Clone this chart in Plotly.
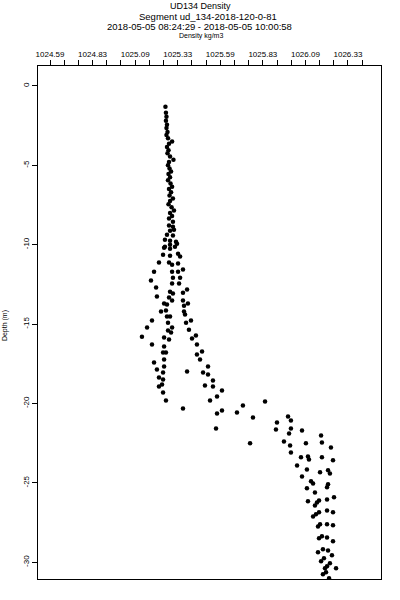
import plotly.graph_objects as go

# ---- data (density kg/m3, depth m) ----
density = [
    1025.258, 1025.261, 1025.264, 1025.261, 1025.267, 1025.264, 1025.270, 1025.264, 1025.273, 1025.297,
    1025.279, 1025.267, 1025.276, 1025.270, 1025.285, 1025.305, 1025.279, 1025.273, 1025.282, 1025.291,
    1025.276, 1025.285, 1025.273, 1025.288, 1025.297, 1025.279, 1025.291, 1025.282, 1025.302, 1025.285,
    1025.276, 1025.294, 1025.308, 1025.285, 1025.297, 1025.279, 1025.302,
    1025.279, 1025.302, 1025.285, 1025.308, 1025.267, 1025.302, 1025.255, 1025.285, 1025.320, 1025.285,
    1025.326, 1025.314, 1025.255, 1025.250, 1025.285, 1025.244, 1025.285, 1025.332, 1025.344, 1025.220,
    1025.279, 1025.297, 1025.332, 1025.191, 1025.297, 1025.332, 1025.361, 1025.302, 1025.344, 1025.173,
    1025.297, 1025.338, 1025.203, 1025.285, 1025.302, 1025.361, 1025.385, 1025.208, 1025.279, 1025.297,
    1025.361, 1025.250, 1025.267, 1025.367, 1025.390, 1025.232, 1025.261, 1025.367, 1025.373, 1025.267,
    1025.285, 1025.179, 1025.408, 1025.273, 1025.379, 1025.150, 1025.297, 1025.273, 1025.396, 1025.291,
    1025.120, 1025.437, 1025.414, 1025.250, 1025.279, 1025.179, 1025.443, 1025.250, 1025.244, 1025.261,
    1025.473, 1025.443, 1025.250, 1025.461, 1025.191, 1025.250, 1025.508, 1025.208, 1025.385, 1025.244,
    1025.479, 1025.508, 1025.220, 1025.244, 1025.537, 1025.238, 1025.220, 1025.490, 1025.537, 1025.590,
    1025.244, 1025.561, 1025.261, 1025.520, 1025.843, 1025.713, 1025.361, 1025.590, 1025.678, 1025.561,
    1025.772, 1025.978, 1025.995, 1025.913, 1025.555, 1025.907, 1025.995, 1026.060, 1025.984, 1026.172,
    1025.755, 1025.954, 1026.083, 1026.177, 1025.990, 1026.230, 1025.995, 1026.054, 1026.095, 1026.101,
    1026.177, 1026.242, 1026.031, 1026.089, 1026.166, 1026.213, 1026.224, 1026.060, 1026.113, 1026.125,
    1026.213, 1026.207, 1026.089, 1026.136, 1026.207, 1026.248, 1026.095, 1026.148, 1026.160, 1026.136,
    1026.125, 1026.142, 1026.160, 1026.207, 1026.242, 1026.154, 1026.166, 1026.207, 1026.242, 1026.160,
    1026.177, 1026.207, 1026.242, 1026.154, 1026.183, 1026.213, 1026.236, 1026.172, 1026.189, 1026.224,
    1026.195, 1026.207, 1026.260, 1026.183, 1026.201, 1026.219,
]
depth = [
    -1.32, -1.70, -1.95, -2.20, -2.45, -2.65, -2.90, -3.10, -3.30, -3.50,
    -3.65, -3.85, -4.05, -4.25, -4.45, -4.65, -4.80, -5.00, -5.20, -5.40,
    -5.55, -5.75, -5.95, -6.15, -6.35, -6.50, -6.70, -6.90, -7.10, -7.25,
    -7.45, -7.65, -7.85, -8.00, -8.20, -8.35, -8.55,
    -8.80, -8.87, -9.12, -9.06, -9.37, -9.43, -9.69, -9.75, -9.81, -10.00,
    -9.94, -10.13, -10.13, -10.19, -10.25, -10.63, -10.69, -10.57, -10.75, -11.13,
    -11.13, -11.26, -11.19, -11.70, -11.70, -11.70, -11.57, -12.08, -12.08, -12.26,
    -12.45, -12.45, -12.70, -12.96, -13.08, -13.02, -12.83, -13.27, -13.33, -13.52,
    -13.52, -13.71, -13.77, -13.84, -13.71, -14.21, -14.15, -14.21, -14.40, -14.53,
    -14.53, -14.78, -14.78, -14.91, -14.91, -15.22, -15.22, -15.41, -15.35, -15.53,
    -15.79, -15.72, -15.91, -15.85, -15.97, -16.29, -16.29, -16.41, -16.79, -16.79,
    -16.73, -16.92, -17.23, -17.23, -17.42, -17.67, -17.67, -17.86, -17.99, -18.05,
    -18.05, -18.18, -18.36, -18.49, -18.55, -18.80, -18.93, -18.87, -18.93, -19.18,
    -19.31, -19.56, -19.81, -19.81, -19.87, -20.12, -20.31, -20.44, -20.56, -20.63,
    -20.88, -20.82, -21.07, -21.19, -21.57, -21.63, -21.57, -21.70, -21.89, -22.01,
    -22.51, -22.39, -22.51, -22.45, -22.64, -22.77, -23.08, -23.39, -23.33, -23.52,
    -23.39, -23.58, -23.90, -24.15, -24.33, -24.21, -24.40, -24.59, -24.90, -25.03,
    -25.09, -25.28, -25.34, -25.60, -26.04, -25.91, -26.16, -26.23, -26.10, -26.42,
    -27.11, -26.98, -26.85, -26.73, -26.85, -27.74, -27.61, -27.61, -27.67, -28.49,
    -28.36, -28.43, -28.68, -29.37, -29.18, -29.25, -29.56, -29.94, -29.75, -30.06,
    -30.38, -30.25, -30.38, -30.75, -30.63, -31.01,
]

x_tick_vals = [1024.58, 1024.83, 1025.08, 1025.33, 1025.58, 1025.83, 1026.08, 1026.33]
x_tick_text = ["1024.59", "1024.83", "1025.09", "1025.33", "1025.59", "1025.83", "1026.09", "1026.33"]
y_tick_vals = [0, -5, -10, -15, -20, -25, -30]
y_tick_text = ["0", "-5", "-10", "-15", "-20", "-25", "-30"]

title_lines = ["UD134 Density", "Segment ud_134-2018-120-0-81",
               "2018-05-05 08:24:29 - 2018-05-05 10:00:58"]
x_label = "Density kg/m3"
y_label = "Depth (m)"

# all top-axis ticks: three per labelled interval, one past the last label;
# only every third tick carries a label
step = (x_tick_vals[1] - x_tick_vals[0]) / 3.0
n_ticks = 3 * (len(x_tick_vals) - 1) + 2
all_tick_vals = [x_tick_vals[0] + k * step for k in range(n_ticks)]
all_tick_text = [x_tick_text[k // 3] if (k % 3 == 0 and k // 3 < len(x_tick_text)) else ""
                 for k in range(n_ticks)]

FONT = "Liberation Sans, Arial, sans-serif"

fig = go.Figure(go.Scatter(
    x=density, y=depth, mode="markers",
    marker=dict(symbol="circle", size=4.5, color="black", line=dict(width=0)),
    cliponaxis=True, hoverinfo="skip",
))

fig.update_layout(
    width=400, height=600,
    margin=dict(l=38, r=19, t=66, b=21, pad=0),
    paper_bgcolor="white", plot_bgcolor="white",
    showlegend=False,
    font=dict(family=FONT, color="black"),
    xaxis=dict(
        side="top", range=[1024.5095, 1026.524],
        tickmode="array", tickvals=all_tick_vals, ticktext=all_tick_text,
        ticks="outside", ticklen=5, tickwidth=1, tickcolor="black",
        tickfont=dict(size=8, family=FONT), tickangle=0,
        showline=True, linecolor="black", linewidth=1, mirror=True,
        showgrid=False, zeroline=False,
    ),
    yaxis=dict(
        range=[-31.05, 1.25],
        tickmode="array", tickvals=y_tick_vals, ticktext=y_tick_text,
        ticks="outside", ticklen=5, tickwidth=1, tickcolor="black",
        tickangle=-90, tickfont=dict(size=8, family=FONT),
        showline=True, linecolor="black", linewidth=1, mirror=True,
        showgrid=False, zeroline=False,
    ),
)

# title block and axis labels
title_pos = [(0.4752, 1.1174, 9), (0.4956, 1.0965, 9.5), (0.4694, 1.0765, 9.5)]
for text, (xp, yp, sz) in zip(title_lines, title_pos):
    fig.add_annotation(text=text, x=xp, y=yp, xref="paper", yref="paper",
                       xanchor="center", yanchor="middle", showarrow=False,
                       font=dict(size=sz, family=FONT, color="black"))
fig.add_annotation(text=x_label, x=0.4752, y=1.0585, xref="paper", yref="paper",
                   xanchor="center", yanchor="middle", showarrow=False,
                   font=dict(size=7, family=FONT, color="black"))
fig.add_annotation(text=y_label, x=-0.0962, y=0.493, xref="paper", yref="paper",
                   xanchor="center", yanchor="middle", showarrow=False, textangle=-90,
                   font=dict(size=7, family=FONT, color="black"))

fig.write_html(
    "out.html",
    config={"displayModeBar": False},
    post_script="document.body.style.margin='0px';document.body.style.overflow='hidden';",
)
